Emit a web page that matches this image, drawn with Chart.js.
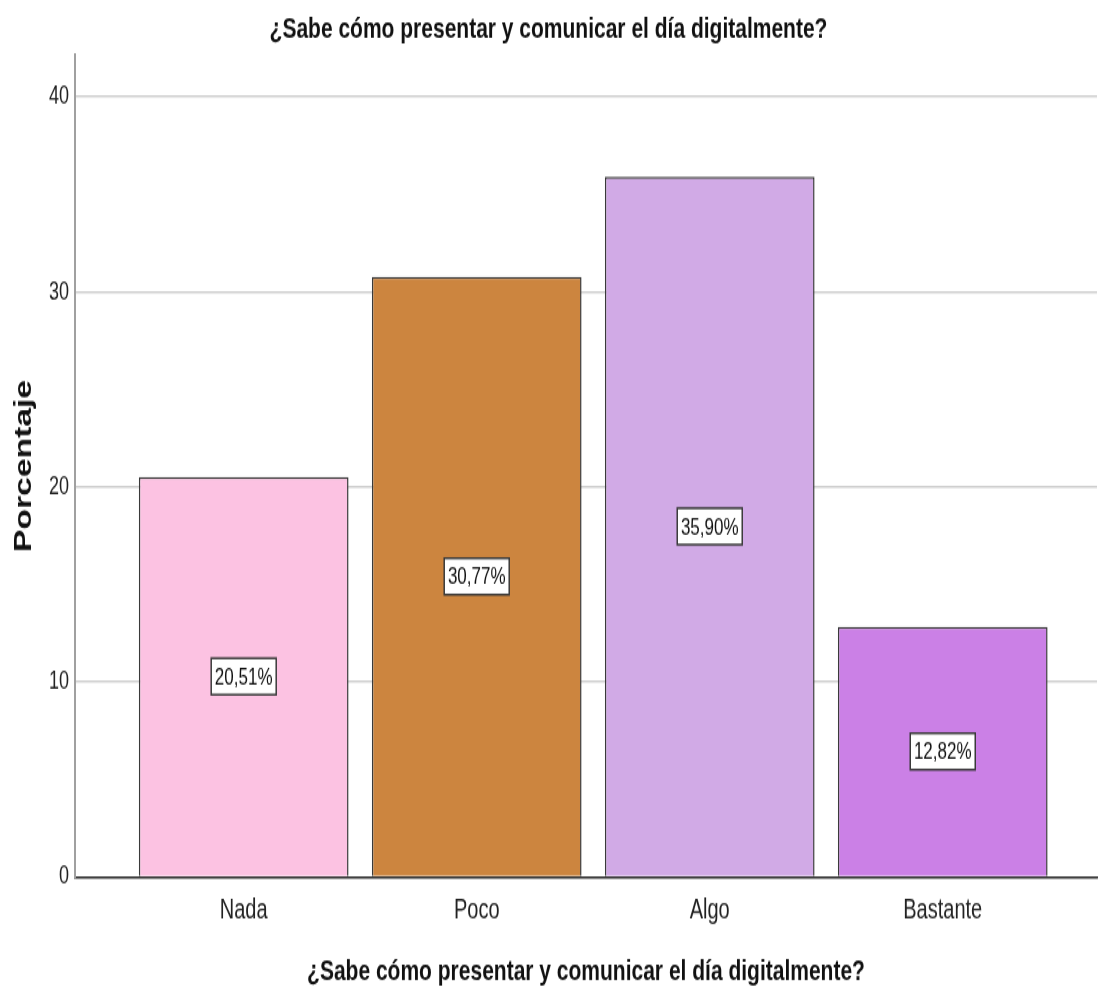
<!DOCTYPE html>
<html>
<head>
<meta charset="utf-8">
<script src="https://cdn.jsdelivr.net/npm/chart.js@4/dist/chart.umd.min.js"></script>
<style>
  html, body { margin: 0; padding: 0; background: #fff; }
</style>
</head>
<body>
<!-- the original image is stretched vertically, so the canvas is drawn shorter and scaled up by CSS -->
<canvas id="chart" width="1099" height="710" style="display:block;width:1099px;height:994px"></canvas>
<script>
const categories = ['Nada', 'Poco', 'Algo', 'Bastante'];
const percentages = [20.51, 30.77, 35.90, 12.82];
const barColors = ['#fcc2e2', '#cc853f', '#d1aae6', '#cb80e6'];
const yTicks = [0, 10, 20, 30, 40];
const titleText = '¿Sabe cómo presentar y comunicar el día digitalmente?';
const yTitle = 'Porcentaje';

const SANS = '"Liberation Sans", Arial, sans-serif';
const NARROW = '"Liberation Sans Narrow", "Arial Narrow", "Liberation Sans", sans-serif';

// white boxes with the percentage in the middle of each bar
const valueBoxes = {
    id: 'valueBoxes',
    afterDatasetsDraw(chart) {
        const ctx = chart.ctx;
        const meta = chart.getDatasetMeta(0);
        ctx.save();
        ctx.font = '17px ' + NARROW;
        ctx.textAlign = 'center';
        ctx.textBaseline = 'middle';
        meta.data.forEach((bar, i) => {
            const label = percentages[i].toFixed(2).replace('.', ',') + '%';
            const cx = bar.x;
            const cy = (bar.y + bar.base) / 2;
            const w = Math.round(ctx.measureText(label).width + 7);
            const h = 26;
            ctx.fillStyle = '#ffffff';
            ctx.fillRect(cx - w / 2, cy - h / 2, w, h);
            ctx.strokeStyle = '#3a3a3a';
            ctx.lineWidth = 1.5;
            ctx.strokeRect(cx - w / 2, cy - h / 2, w, h);
            ctx.fillStyle = '#111';
            ctx.fillText(label, cx, cy + 1);
        });
        ctx.restore();
    }
};

new Chart(document.getElementById('chart'), {
    type: 'bar',
    data: {
        datasets: [{
            data: percentages.map((v, i) => ({ x: i, y: v })),
            backgroundColor: barColors,
            borderColor: '#3a3a3a',
            borderWidth: 1.5,
            borderSkipped: 'bottom',
            categoryPercentage: 1,
            barPercentage: 0.9
        }]
    },
    options: {
        responsive: false,
        animation: false,
        layout: { padding: { left: 0, right: 2, top: 0, bottom: 0 } },
        plugins: {
            legend: { display: false },
            tooltip: { enabled: false },
            title: {
                display: true,
                text: titleText,
                color: '#111',
                font: { family: SANS, size: 21, weight: 'bold' },
                padding: { top: 8.8, bottom: 5.3 }
            }
        },
        scales: {
            x: {
                type: 'linear',
                bounds: 'data',
                offset: false,
                min: -0.724,
                max: 3.662,
                afterBuildTicks: s => { s.ticks = categories.map((_, i) => ({ value: i })); },
                afterFit: s => { s.height = 83.6; },
                grid: { display: false, drawTicks: false },
                border: { display: true, color: '#2b2b2b', width: 1.5 },
                ticks: {
                    autoSkip: false,
                    maxRotation: 0,
                    padding: 12,
                    color: '#222',
                    font: { family: SANS, size: 20 },
                    callback: v => categories[v]
                },
                title: {
                    display: true,
                    text: titleText,
                    color: '#111',
                    font: { family: SANS, size: 21, weight: 'bold' },
                    padding: { top: 0, bottom: 3.4 }
                }
            },
            y: {
                min: 0,
                max: 42.15,
                afterBuildTicks: s => { s.ticks = yTicks.map(v => ({ value: v })); },
                afterFit: s => { s.width = 75; },
                grid: { color: '#cfcfcf', lineWidth: 1.5, drawTicks: false },
                border: { display: true, color: '#a0a0a0', width: 2 },
                ticks: {
                    padding: 6,
                    color: '#222',
                    font: { family: NARROW, size: 18 }
                },
                title: {
                    display: true,
                    text: yTitle,
                    color: '#111',
                    font: { family: SANS, size: 24, weight: 'bold' },
                    padding: { top: 10, bottom: 0 }
                }
            }
        }
    },
    plugins: [valueBoxes]
});
</script>
</body>
</html>
